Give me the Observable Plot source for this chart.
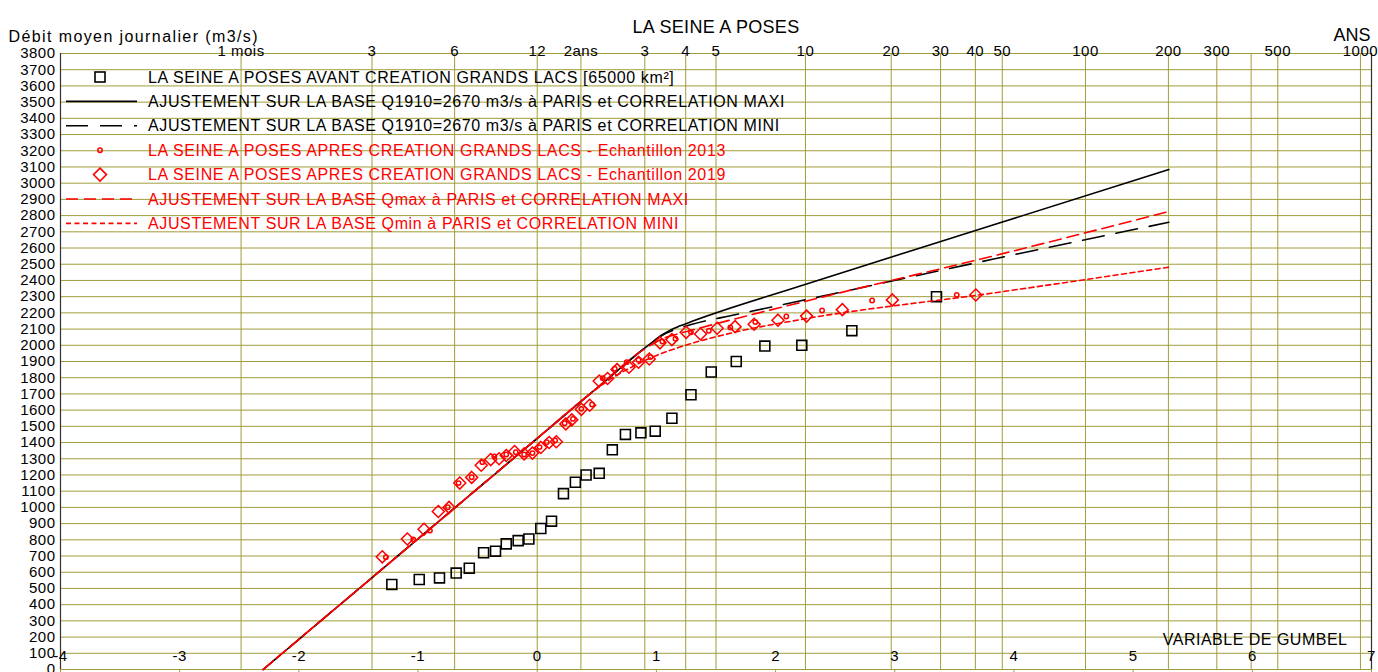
<!DOCTYPE html>
<html><head><meta charset="utf-8">
<script src="https://cdn.jsdelivr.net/npm/d3@7"></script>
<script src="https://cdn.jsdelivr.net/npm/@observablehq/plot@0.6"></script>
<style>
html,body{margin:0;padding:0;background:#fff;}
#chart{position:relative;width:1378px;height:672px;overflow:hidden;}
</style></head><body><div id="chart"></div>
<script>
// ---- axis / tick data ----
const gumbelTicks = [-4,-3,-2,-1,0,1,2,3,4,5,6,7];
const periodValues = [1/12, 0.25, 0.5, 1, 2, 3, 4, 5, 10, 20, 30, 40, 50, 100, 200, 300, 400, 500, 1000];
const periodLabels = ["1 mois","3","6","12","2ans","3","4","5","10","20","30","40","50","100","200","300","","500","1000"];
const debitTicks = d3.range(0, 3801, 100);

// ---- series ----
// before lakes (u gumbel, débit m3/s)
const avantU = [-1.22,-0.99,-0.82,-0.68,-0.57,-0.45,-0.35,-0.26,-0.16,-0.07,0.03,0.12,0.22,0.32,0.41,0.52,0.63,0.74,0.87,0.99,1.13,1.29,1.46,1.67,1.91,2.22,2.64,3.35];
const avantQ = [525,555,565,595,625,720,730,775,795,805,870,915,1085,1155,1200,1210,1355,1450,1460,1470,1550,1695,1835,1900,1995,2000,2090,2300];
// after lakes, sample 2013
const ech2013U = [-1.27,-1.04,-0.90,-0.75,-0.66,-0.55,-0.46,-0.36,-0.26,-0.18,-0.11,-0.04,0.02,0.08,0.15,0.23,0.30,0.37,0.46,0.55,0.65,0.75,0.85,0.95,1.05,1.16,1.29,1.44,1.62,1.83,2.09,2.39,2.81,3.52];
const ech2013Q = [693,802,857,1001,1150,1186,1279,1314,1326,1340,1326,1335,1372,1402,1413,1519,1546,1608,1635,1797,1855,1896,1910,1927,2023,2040,2080,2090,2110,2143,2178,2215,2276,2311];
// after lakes, sample 2019
const ech2019U = [-1.30,-1.09,-0.95,-0.83,-0.74,-0.65,-0.55,-0.47,-0.39,-0.32,-0.26,-0.19,-0.11,-0.04,0.03,0.10,0.16,0.24,0.29,0.37,0.44,0.52,0.59,0.67,0.77,0.85,0.94,1.03,1.13,1.25,1.37,1.51,1.66,1.82,2.02,2.26,2.56,2.98,3.68];
const ech2019Q = [695,805,865,975,1000,1150,1185,1260,1295,1300,1320,1345,1330,1335,1370,1400,1405,1515,1540,1605,1630,1780,1795,1850,1865,1895,1915,2015,2035,2080,2070,2105,2115,2130,2155,2180,2220,2280,2310];
// fitted curves
const fitQ1910MaxiU = [-2.30,-1.00,0.00,0.50,0.95,1.05,1.12,1.20,1.30,2.22,3.81,5.30];
const fitQ1910MaxiQ = [0,806,1426,1736,2010,2065,2095,2120,2148,2369,2739,3084];
const fitQ1910MiniU = [-2.30,-1.00,0.00,0.50,0.95,1.05,1.15,1.30,1.66,2.22,3.81,5.30];
const fitQ1910MiniQ = [0,806,1426,1736,2010,2062,2095,2130,2188,2276,2529,2759];
const fitQmaxMaxiU = [-2.30,-1.00,0.00,0.50,0.85,0.95,1.05,1.15,1.30,2.22,3.81,5.30];
const fitQmaxMaxiQ = [0,806,1426,1736,1953,2000,2040,2064,2094,2266,2548,2825];
const fitQminMiniU = [-2.30,-1.00,0.00,0.40,0.60,0.80,0.96,1.24,1.66,2.22,3.81,5.30];
const fitQminMiniQ = [0,806,1426,1675,1785,1868,1925,1999,2081,2160,2321,2482];

const legendLabels = [
  "LA SEINE A POSES AVANT CREATION GRANDS LACS [65000 km²]",
  "AJUSTEMENT SUR LA BASE Q1910=2670 m3/s à PARIS et CORRELATION MAXI",
  "AJUSTEMENT SUR LA BASE Q1910=2670 m3/s à PARIS et CORRELATION MINI",
  "LA SEINE A POSES APRES CREATION GRANDS LACS - Echantillon 2013",
  "LA SEINE A POSES APRES CREATION GRANDS LACS - Echantillon 2019",
  "AJUSTEMENT SUR LA BASE Qmax à PARIS et CORRELATION MAXI",
  "AJUSTEMENT SUR LA BASE Qmin à PARIS et CORRELATION MINI"
];
const legendKinds = ["square","line","line","circle","diamond","line","line"];
const legendColors = ["#000","#000","#000","#f00","#f00","#f00","#f00"];
const legendDash = [null,null,"22,12",null,null,"12,6","5,3.5"];

// ---- helpers ----
const toU = T => T <= 1 ? Math.log(T) : -Math.log(-Math.log(1 - 1/T));
const pts = (us, qs) => us.map((u,i) => ({u, q: qs[i]}));
const olive = "#a29d3a";
const font = "Liberation Sans, Arial, sans-serif";
const periodIdx = periodValues.map((_,i) => i);

const lineOpts = (stroke, dash) => ({x:"u", y:"q", stroke, strokeWidth:1.6, strokeDasharray: dash, curve:"monotone-x"});

const chart = Plot.plot({
  width: 1378, height: 672,
  marginLeft: 60, marginRight: 7, marginTop: 53, marginBottom: 3,
  x: {domain: [-4, 7], axis: null},
  y: {domain: [0, 3800], axis: null},
  style: {fontFamily: font, background: "#fff", overflow: "visible"},
  marks: [
    Plot.ruleY(debitTicks, {y: d => d, stroke: olive, strokeWidth: 1}),
    Plot.ruleX(periodIdx, {x: i => toU(periodValues[i]), stroke: olive, strokeWidth: 1}),
    Plot.ruleX([-4, 7], {stroke: "#333", strokeWidth: 1.2}),
    Plot.ruleX(gumbelTicks, {x: d => d, y1: -25, y2: 0, stroke: olive}),
    // axis labels
    Plot.text(debitTicks, {y: d => d, frameAnchor: "left", dx: -5, textAnchor: "end", text: d => String(d), fontSize: 15, fill: "#000", ariaDescription: "ytick"}),
    Plot.text(periodIdx, {x: i => toU(periodValues[i]), frameAnchor: "top", dy: -8, text: i => periodLabels[i], fontSize: 15, fill: "#000", ariaDescription: "toptick"}),
    Plot.text(gumbelTicks, {x: d => d, frameAnchor: "bottom", dy: -9, text: d => String(d), fontSize: 15, fill: "#000", ariaDescription: "bottick"}),
    Plot.text(["LA SEINE A POSES"], {frameAnchor: "top", dy: -33, text: d => d, fontSize: 18, fill: "#000", ariaDescription: "title"}),
    Plot.text(["ANS"], {frameAnchor: "top-right", dx: -1, dy: -25, textAnchor: "end", text: d => d, fontSize: 18, fill: "#000", ariaDescription: "ans"}),
    Plot.text(["Débit moyen journalier (m3/s)"], {frameAnchor: "top-left", dx: -52, dy: -23, textAnchor: "start", text: d => d, fontSize: 16, fill: "#000", ariaDescription: "ylabel"}),
    Plot.text(["VARIABLE DE GUMBEL"], {frameAnchor: "bottom-right", dx: -24, dy: -25, textAnchor: "end", text: d => d, fontSize: 16, fill: "#000", ariaDescription: "xlabel"}),
    // data
    Plot.dot(pts(avantU, avantQ), {x: "u", y: "q", symbol: "square", r: 5.6, stroke: "#000", strokeWidth: 1.6, fill: "none"}),
    Plot.line(pts(fitQ1910MaxiU, fitQ1910MaxiQ), lineOpts("#000", null)),
    Plot.line(pts(fitQ1910MiniU, fitQ1910MiniQ), lineOpts("#000", "22,12")),
    Plot.line(pts(fitQmaxMaxiU, fitQmaxMaxiQ), lineOpts("#f00", "12,6")),
    Plot.line(pts(fitQminMiniU, fitQminMiniQ), lineOpts("#f00", "5,3.5")),
    Plot.dot(pts(ech2019U, ech2019Q), {x: "u", y: "q", symbol: "diamond2", r: 5.4, stroke: "#f00", strokeWidth: 1.5, fill: "none"}),
    Plot.dot(pts(ech2013U, ech2013Q), {x: "u", y: "q", r: 2.2, stroke: "#f00", strokeWidth: 1.5, fill: "none"})
  ]
});
document.getElementById("chart").appendChild(chart);

const svg = d3.select(chart);
const spacing = (desc, ls) => svg.selectAll(`g[aria-description="${desc}"] text`).style("letter-spacing", ls);
spacing("ytick", "0.5px");
spacing("toptick", "0.5px");
spacing("bottick", "0.5px");
spacing("ylabel", "1.4px");
spacing("xlabel", "0.5px");
spacing("title", "0.3px");

// ---- legend (inside the frame, top-left) ----
const lg = svg.append("g").attr("aria-label", "legend").attr("text-anchor", "start");
legendLabels.forEach((label, i) => {
  const cy = 77 + i * 24.4;
  const c = legendColors[i];
  const k = legendKinds[i];
  if (k === "line") {
    lg.append("line").attr("x1", 66).attr("x2", 137).attr("y1", cy).attr("y2", cy)
      .attr("stroke", c).attr("stroke-width", 1.6).attr("stroke-dasharray", legendDash[i]);
  } else if (k === "square") {
    lg.append("rect").attr("x", 95).attr("y", cy - 5).attr("width", 10).attr("height", 10)
      .attr("fill", "none").attr("stroke", c).attr("stroke-width", 1.6);
  } else if (k === "circle") {
    lg.append("circle").attr("cx", 100).attr("cy", cy).attr("r", 2.2)
      .attr("fill", "none").attr("stroke", c).attr("stroke-width", 1.5);
  } else {
    lg.append("path").attr("d", `M100,${cy-6.5}L106.5,${cy}L100,${cy+6.5}L93.5,${cy}Z`)
      .attr("fill", "none").attr("stroke", c).attr("stroke-width", 1.5);
  }
  lg.append("text").attr("x", 148).attr("y", cy).attr("dy", "0.35em").attr("text-anchor", "start")
    .attr("fill", c).attr("font-size", 16).attr("font-family", font)
    .style("letter-spacing", "0.62px").text(label);
});
</script>
</body></html>
